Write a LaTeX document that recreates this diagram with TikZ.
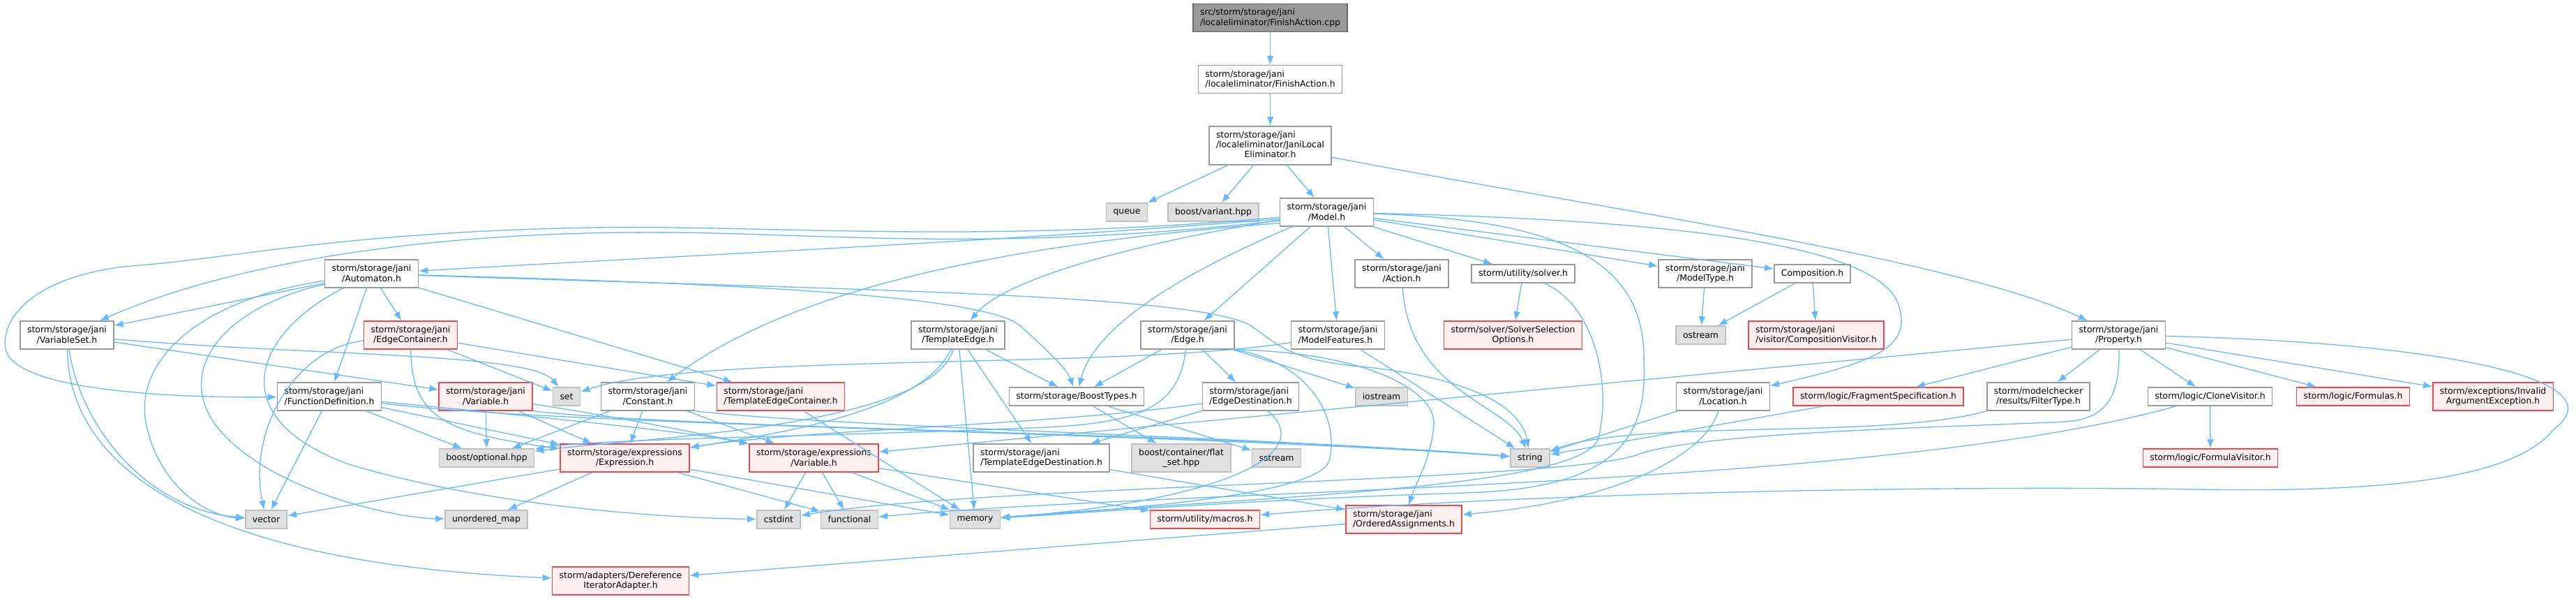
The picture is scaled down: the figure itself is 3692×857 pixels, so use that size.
\documentclass[tikz,border=0pt]{standalone}
\usepackage{fontspec}
\setmainfont{DejaVu Sans}
\usepackage{tikz}
\usetikzlibrary{arrows.meta}

\definecolor{deplink}{HTML}{63B8FF}
\definecolor{boxgray}{HTML}{999999}
\definecolor{sysgray}{HTML}{BFBFBF}
\definecolor{sysfill}{HTML}{E0E0E0}
\definecolor{truncred}{HTML}{F04848}
\definecolor{truncfill}{HTML}{FFF0F0}
\definecolor{rootfill}{HTML}{999999}
\definecolor{rootedge}{HTML}{666666}

\begin{document}
\begin{tikzpicture}[x=1pt, y=-1pt,
    every node/.style={font=\fontsize{12.4}{14.3}\selectfont, align=center, inner xsep=10pt, inner ysep=1pt, minimum height=26pt, line width=1.5pt},
    file/.style={draw=boxgray, fill=white},
    sys/.style={draw=sysgray, fill=sysfill},
    trunc/.style={draw=truncred, fill=truncfill},
    root/.style={draw=rootedge, fill=rootfill},
    lines2/.style={minimum height=40pt},
    lines3/.style={minimum height=55pt},
    dep/.style={draw=deplink, line width=1.3pt, -{Latex[length=13pt,width=10pt]}}
]
\useasboundingbox (0,0) rectangle (3692,857);

% top of the graph
\node[root, lines2, align=left] (cpp) at (1820.5,25.5) {src/storm/storage/jani\\/localeliminator/FinishAction.cpp};
\node[file, lines2, align=left] (finishh) at (1820.5,113.5) {storm/storage/jani\\/localeliminator/FinishAction.h};
\node[file, lines3] (elim) at (1820.5,208.5) {\begin{tabular}{@{}l@{}}storm/storage/jani\\/localeliminator/JaniLocal\\\multicolumn{1}{@{}c@{}}{Eliminator.h}\end{tabular}};
\node[sys] (queue) at (1615,304) {queue};
\node[sys] (variant) at (1739,304) {boost/variant.hpp};
\node[file, lines2] (model) at (1901.5,304) {storm/storage/jani\\/Model.h};

% row 1
\node[file, lines2] (automaton) at (532.5,392) {storm/storage/jani\\/Automaton.h};
\node[file, lines2] (action) at (2009,392) {storm/storage/jani\\/Action.h};
\node[file] (solver) at (2183,392) {storm/utility/solver.h};
\node[file, lines2] (modeltype) at (2444,392) {storm/storage/jani\\/ModelType.h};
\node[file] (composition) at (2597.5,392) {Composition.h};

% row 2
\node[file, lines2] (variableset) at (96,480) {storm/storage/jani\\/VariableSet.h};
\node[trunc, lines2] (edgecontainer) at (588.5,480) {storm/storage/jani\\/EdgeContainer.h};
\node[file, lines2] (templateedge) at (1373,480) {storm/storage/jani\\/TemplateEdge.h};
\node[file, lines2] (edge) at (1702,480) {storm/storage/jani\\/Edge.h};
\node[file, lines2, align=left] (modelfeatures) at (1917.5,480) {storm/storage/jani\\/ModelFeatures.h};
\node[trunc, lines2] (solversel) at (2168.5,480) {storm/solver/SolverSelection\\Options.h};
\node[sys] (ostream) at (2437.5,480) {ostream};
\node[trunc, lines2, align=left] (compvisitor) at (2603,480) {storm/storage/jani\\/visitor/CompositionVisitor.h};
\node[file, lines2] (property) at (3036.5,480) {storm/storage/jani\\/Property.h};

% row 3
\node[file, lines2, align=left] (funcdef) at (472,568) {storm/storage/jani\\/FunctionDefinition.h};
\node[trunc, lines2] (janivar) at (696,568) {storm/storage/jani\\/Variable.h};
\node[sys] (set) at (812,568) {set};
\node[file, lines2] (constant) at (928.5,568) {storm/storage/jani\\/Constant.h};
\node[trunc, lines2, align=left] (tecontainer) at (1119,568) {storm/storage/jani\\/TemplateEdgeContainer.h};
\node[file] (boosttypes) at (1543,568) {storm/storage/BoostTypes.h};
\node[file, lines2, align=left] (edgedest) at (1792.5,568) {storm/storage/jani\\/EdgeDestination.h};
\node[sys] (iostream) at (1980,568) {iostream};
\node[file, lines2] (location) at (2469.5,568) {storm/storage/jani\\/Location.h};
\node[trunc] (fragspec) at (2692,568) {storm/logic/FragmentSpecification.h};
\node[file, lines2] (filtertype) at (2921.5,568) {storm/modelchecker\\/results/FilterType.h};
\node[file] (clonevisitor) at (3167.5,568) {storm/logic/CloneVisitor.h};
\node[trunc] (formulas) at (3372.5,568) {storm/logic/Formulas.h};
\node[trunc, lines2] (invalidarg) at (3573,568) {storm/exceptions/Invalid\\ArgumentException.h};

% row 4
\node[sys] (optional) at (697.5,656) {boost/optional.hpp};
\node[trunc, lines2] (expression) at (895.5,656) {storm/storage/expressions\\/Expression.h};
\node[trunc, lines2] (exprvar) at (1166.5,656) {storm/storage/expressions\\/Variable.h};
\node[file, lines2, align=left] (tedest) at (1492.5,656) {storm/storage/jani\\/TemplateEdgeDestination.h};
\node[sys, lines2] (flatset) at (1693,656) {boost/container/flat\\\_set.hpp};
\node[sys] (sstream) at (1829.5,656) {sstream};
\node[sys] (string) at (2193,656) {string};
\node[trunc] (formulavisitor) at (3168,656) {storm/logic/FormulaVisitor.h};

% row 5
\node[sys] (vector) at (381.5,744) {vector};
\node[sys] (unorderedmap) at (697,744) {unordered\_map};
\node[sys] (cstdint) at (1116,744) {cstdint};
\node[sys] (functional) at (1217.5,744) {functional};
\node[sys] (memory) at (1397.5,744) {memory};
\node[trunc] (macros) at (1727,744) {storm/utility/macros.h};
\node[trunc, lines2, align=left] (ordered) at (2012,744) {storm/storage/jani\\/OrderedAssignments.h};
\node[trunc, lines2] (deref) at (889.5,832) {storm/adapters/Dereference\\IteratorAdapter.h};

% includes
\draw[dep] (cpp) -- (finishh);
\draw[dep] (finishh) -- (elim);
\draw[dep] (elim) -- (queue);
\draw[dep] (elim) -- (variant);
\draw[dep] (elim) -- (model);
\draw[dep] (elim) .. controls (2300,300) and (2800,370) .. (property);

\draw[dep] (model.188) .. controls (1450,345) and (1000,365) .. (automaton);
\draw[dep] (model.190) .. controls (1400,365) and (1150,330) .. (900,333) .. controls (550,336) and (300,390) .. (variableset);
\draw[dep] (model.186) .. controls (1400,350) and (1100,322) .. (850,326) .. controls (500,332) and (330,370) .. (200,380) .. controls (60,390) and (0,450) .. (8,500) .. controls (20,560) and (250,570) .. (funcdef);
\draw[dep] (model.193) .. controls (1500,345) and (1150,400) .. (constant);
\draw[dep] (model) .. controls (1620,350) and (1440,400) .. (templateedge);
\draw[dep] (model) .. controls (1720,380) and (1570,460) .. (boosttypes);
\draw[dep] (model) -- (edge);
\draw[dep] (model) -- (modelfeatures);
\draw[dep] (model) -- (action);
\draw[dep] (model) -- (solver);
\draw[dep] (model) -- (modeltype);
\draw[dep] (model) -- (composition);
\draw[dep] (model) .. controls (2400,315) and (2700,350) .. (2722,440) .. controls (2740,500) and (2680,520) .. (location);
\draw[dep] (model) .. controls (2250,315) and (2360,380) .. (2356,520) .. controls (2362,640) and (2300,700) .. (2100,706) .. controls (1800,715) and (1550,735) .. (memory);

\draw[dep] (automaton) -- (variableset);
\draw[dep] (automaton) -- (edgecontainer);
\draw[dep] (automaton) -- (funcdef);
\draw[dep] (automaton) -- (tecontainer);
\draw[dep] (automaton) .. controls (1000,405) and (1400,420) .. (1460,465) .. controls (1500,500) and (1530,530) .. (boosttypes);
\draw[dep] (automaton) .. controls (1200,415) and (1700,420) .. (1790,465) .. controls (1830,490) and (1840,515) .. (1950,525) .. controls (2100,540) and (2180,580) .. (string);
\draw[dep] (automaton) .. controls (280,430) and (190,520) .. (210,610) .. controls (230,700) and (300,740) .. (vector);
\draw[dep] (automaton) .. controls (320,440) and (250,530) .. (310,610) .. controls (380,700) and (560,742) .. (unorderedmap);
\draw[dep] (automaton) .. controls (360,480) and (320,600) .. (500,665) .. controls (700,725) and (950,742) .. (cstdint);

\draw[dep] (variableset) -- (janivar);
\draw[dep] (variableset) .. controls (450,510) and (760,505) .. (set);
\draw[dep] (variableset) .. controls (115,610) and (210,730) .. (vector);
\draw[dep] (variableset) .. controls (100,700) and (350,810) .. (deref);

\draw[dep] (edgecontainer) -- (set);
\draw[dep] (edgecontainer) -- (tecontainer);
\draw[dep] (edgecontainer) .. controls (590,600) and (640,620) .. (expression);
\draw[dep] (edgecontainer) .. controls (420,500) and (355,620) .. (vector);

\draw[dep] (funcdef) -- (optional);
\draw[dep] (funcdef) -- (expression);
\draw[dep] (funcdef) .. controls (800,600) and (1000,620) .. (exprvar);
\draw[dep] (funcdef) -- (vector);
\draw[dep] (funcdef) .. controls (800,610) and (1700,620) .. (string);

\draw[dep] (janivar) -- (optional);
\draw[dep] (janivar) -- (expression);
\draw[dep] (janivar) .. controls (900,600) and (1000,620) .. (exprvar);
\draw[dep] (janivar.south east) .. controls (1000,615) and (1750,620) .. (string);

\draw[dep] (constant) -- (optional);
\draw[dep] (constant) -- (expression);
\draw[dep] (constant) -- (exprvar);
\draw[dep] (constant.south east) .. controls (1200,612) and (1800,625) .. (string);

\draw[dep] (tecontainer) -- (memory);

\draw[dep] (templateedge) -- (boosttypes);
\draw[dep] (templateedge) -- (tedest);
\draw[dep] (templateedge) -- (memory);
\draw[dep] (templateedge) .. controls (1320,590) and (1120,620) .. (expression);
\draw[dep] (templateedge) .. controls (1330,615) and (900,628) .. (optional);

\draw[dep] (edge) -- (boosttypes);
\draw[dep] (edge) -- (edgedest);
\draw[dep] (edge) -- (iostream);
\draw[dep] (edge.south east) .. controls (1880,520) and (1920,600) .. (1905,660) .. controls (1890,710) and (1600,730) .. (memory);
\draw[dep] (edge.south east) .. controls (1960,505) and (2060,560) .. (2055,610) .. controls (2050,660) and (2030,690) .. (ordered);
\draw[dep] (edge) .. controls (1690,580) and (1640,605) .. (1500,612) .. controls (1200,625) and (850,628) .. (optional);

\draw[dep] (modelfeatures) .. controls (1600,530) and (1000,505) .. (set);
\draw[dep] (modelfeatures) -- (string);

\draw[dep] (boosttypes) -- (flatset);
\draw[dep] (boosttypes) -- (sstream);

\draw[dep] (edgedest) -- (tedest);
\draw[dep] (edgedest) .. controls (1500,610) and (1150,615) .. (expression);
\draw[dep] (edgedest) .. controls (1890,650) and (1750,718) .. (memory);

\draw[dep] (tedest) -- (ordered);

\draw[dep] (expression) -- (vector);
\draw[dep] (expression) -- (unorderedmap);
\draw[dep] (expression) -- (functional);
\draw[dep] (expression) -- (memory);

\draw[dep] (exprvar) -- (cstdint);
\draw[dep] (exprvar) -- (functional);
\draw[dep] (exprvar) -- (memory);
\draw[dep] (exprvar) -- (macros);

\draw[dep] (ordered) -- (deref);

\draw[dep] (solver) -- (solversel);
\draw[dep] (solver) .. controls (2290,440) and (2310,560) .. (2290,630) .. controls (2260,700) and (1800,712) .. (memory);
\draw[dep] (action) .. controls (2020,560) and (2160,580) .. (string);
\draw[dep] (modeltype) -- (ostream);
\draw[dep] (composition) -- (ostream);
\draw[dep] (composition) -- (compvisitor);

\draw[dep] (location) -- (string);
\draw[dep] (location) .. controls (2440,660) and (2300,720) .. (ordered);

\draw[dep] (property) -- (fragspec);
\draw[dep] (property) -- (filtertype);
\draw[dep] (property) -- (clonevisitor);
\draw[dep] (property) -- (formulas);
\draw[dep] (property) -- (invalidarg);
\draw[dep] (property) -- (exprvar);
\draw[dep] (property) .. controls (3038,560) and (3025,600) .. (2960,604) .. controls (2800,612) and (2450,618) .. (2350,650) .. controls (2260,690) and (1400,695) .. (cstdint);
\draw[dep] (property) .. controls (3480,490) and (3760,540) .. (3660,615) .. controls (3600,690) and (3400,705) .. (3150,701) .. controls (2800,695) and (2200,705) .. (macros);

\draw[dep] (fragspec) -- (string);
\draw[dep] (filtertype) .. controls (2700,630) and (2350,600) .. (string);
\draw[dep] (clonevisitor) -- (formulavisitor);
\draw[dep] (clonevisitor) .. controls (2700,700) and (1700,700) .. (functional);

\end{tikzpicture}
\end{document}
